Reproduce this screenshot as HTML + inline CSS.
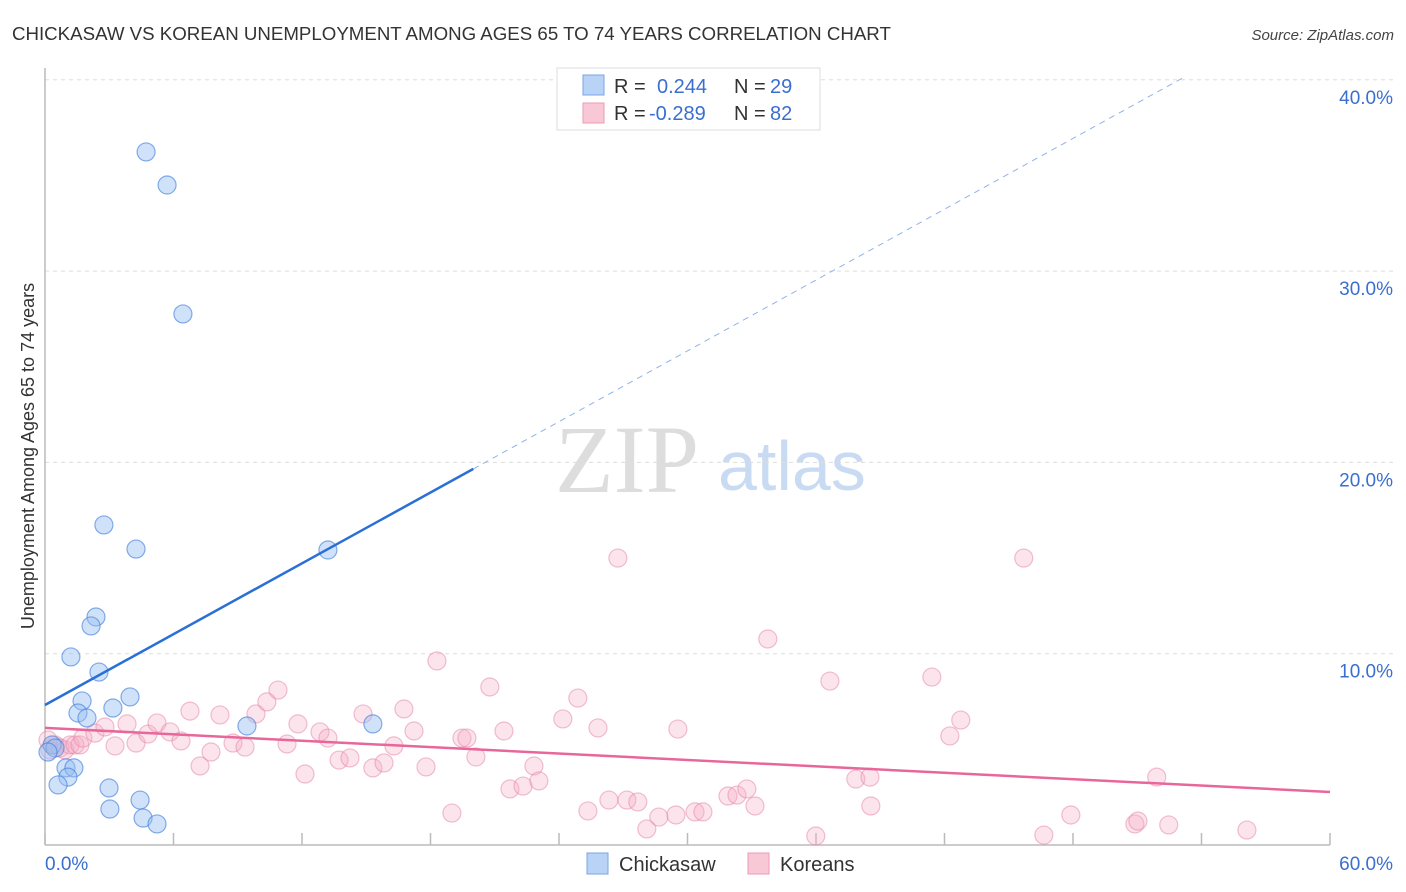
<!DOCTYPE html>
<html><head><meta charset="utf-8"><style>
body{margin:0;background:#fff;font-family:"Liberation Sans",sans-serif}
svg{display:block}
</style></head><body>
<svg id="chart" width="1406" height="892" xmlns="http://www.w3.org/2000/svg">
<text x="12" y="40" font-size="18.7" fill="#333">CHICKASAW VS KOREAN UNEMPLOYMENT AMONG AGES 65 TO 74 YEARS CORRELATION CHART</text>
<text x="1394" y="40" font-size="15" fill="#444" font-style="italic" text-anchor="end">Source: ZipAtlas.com</text>
<g>
<text x="555" y="492" font-family="Liberation Serif,serif" font-size="96" fill="#ddd">ZIP</text>
<text x="718" y="490" font-size="70" fill="#c9dbf3">atlas</text>
</g>
<g id="grid"></g>
<g id="axes"></g>
<g id="marks"></g>
<text transform="translate(34,456) rotate(-90)" font-size="18" fill="#333" text-anchor="middle">Unemployment Among Ages 65 to 74 years</text>
<g>
<rect x="557" y="68" width="263" height="62" fill="#fff" stroke="#ddd"/>
<rect x="583" y="75" width="21" height="20" fill="#b8d3f5" stroke="#7aa5e6"/>
<text x="614" y="93" font-size="20" fill="#333">R =</text>
<text x="657" y="93" font-size="20" fill="#3a6fd0">0.244</text>
<text x="734" y="93" font-size="20" fill="#333">N =</text>
<text x="770" y="93" font-size="20" fill="#3a6fd0">29</text>
<rect x="583" y="103" width="21" height="20" fill="#f8c8d6" stroke="#ec9ab5"/>
<text x="614" y="120" font-size="20" fill="#333">R =</text>
<text x="649" y="120" font-size="20" fill="#3a6fd0">-0.289</text>
<text x="734" y="120" font-size="20" fill="#333">N =</text>
<text x="770" y="120" font-size="20" fill="#3a6fd0">82</text>
</g>
<g>
<rect x="587" y="853" width="21" height="21" fill="#b8d3f5" stroke="#7aa5e6"/>
<text x="619" y="871" font-size="20" fill="#333">Chickasaw</text>
<rect x="748" y="853" width="21" height="21" fill="#f8c8d6" stroke="#ec9ab5"/>
<text x="780" y="871" font-size="20" fill="#333">Koreans</text>
</g>
</svg>
<script>
const yTicks=[10,20,30,40];
const yTickLabels=["10.0%","20.0%","30.0%","40.0%"];
const xTicks=[0,6,12,18,24,30,36,42,48,54,60];
const chickX=[4.72,5.70,6.44,2.75,4.25,13.21,2.38,2.15,1.21,2.52,3.97,1.73,3.17,1.54,1.96,9.43,15.31,0.33,0.47,0.14,0.98,1.35,1.07,0.61,2.99,4.44,3.03,4.58,5.23];
const chickY=[36.23,34.50,27.76,16.73,15.47,15.42,11.92,11.45,9.83,9.04,7.74,7.53,7.16,6.90,6.64,6.22,6.33,5.23,5.07,4.86,4.03,4.03,3.55,3.14,2.98,2.35,1.88,1.41,1.10];
const korX=[0.23,0.47,0.70,0.93,1.17,1.40,1.63,0.14,1.77,2.33,2.80,3.27,3.83,4.25,4.81,5.23,5.84,6.35,6.77,7.24,7.75,8.17,8.78,9.34,9.85,10.36,10.88,11.30,11.81,12.14,12.84,13.21,13.73,14.24,14.85,15.31,15.83,16.29,16.76,17.23,17.79,18.30,19.00,19.47,19.70,20.12,20.77,21.43,21.71,22.32,22.83,23.06,24.18,24.88,25.35,25.82,26.33,26.75,27.17,27.68,28.10,28.66,29.46,29.55,30.35,30.72,31.89,32.31,32.77,33.15,33.75,35.99,36.65,37.86,38.52,38.56,41.41,42.25,42.76,45.70,46.64,47.90,50.89,51.03,51.91,52.47,56.12];
const korY=[4.97,5.23,5.07,4.97,5.23,5.23,5.23,5.49,5.59,5.85,6.17,5.18,6.33,5.33,5.80,6.38,5.91,5.44,7.00,4.13,4.86,6.80,5.33,5.12,6.85,7.48,8.10,5.28,6.33,3.71,5.91,5.59,4.44,4.55,6.85,4.03,4.29,5.18,7.11,5.96,4.08,9.62,1.67,5.59,5.59,4.60,8.26,5.96,2.93,3.08,4.13,3.35,6.59,7.68,1.78,6.12,2.35,15.00,2.35,2.25,0.84,1.46,1.57,6.06,1.73,1.73,2.56,2.61,2.93,2.04,10.77,0.47,8.57,3.45,3.55,2.04,8.78,5.70,6.53,15.00,0.52,1.57,1.10,1.25,3.55,1.05,0.78];
const chickTrend=[7.32,0.617]; // intercept, slope
const chickSolidEnd=20;
const chickDashEnd=53.1;
const korTrend=[6.12,-0.0558];

const X0=45,X1=1330,Y0=845,YPER=19.13;
const sx=v=>X0+v*(X1-X0)/60;
const sy=v=>Y0-v*YPER;
const NS="http://www.w3.org/2000/svg";
function mk(tag,attrs,parent){const e=document.createElementNS(NS,tag);for(const k in attrs)e.setAttribute(k,attrs[k]);parent.appendChild(e);return e;}
const grid=document.getElementById('grid'),axes=document.getElementById('axes'),marks=document.getElementById('marks');
yTicks.forEach((t,i)=>{
 const l=mk('line',{x1:X0,x2:1395,y1:sy(t),y2:sy(t),stroke:'#ddd','stroke-dasharray':'4,4'},grid);
 
 
 const tx=mk('text',{x:1393,y:sy(t)+24,'font-size':19,fill:'#3a6fd0','text-anchor':'end'},axes);
 tx.textContent=yTickLabels[i];
 
 
});
const ya=mk('line',{x1:X0,x2:X0,y1:68,y2:Y0,stroke:'#bbb','stroke-width':1.5},axes);


const xa=mk('line',{x1:X0,x2:X1,y1:Y0,y2:Y0,stroke:'#bbb','stroke-width':1.5},axes);


xTicks.forEach(t=>{
 const l=mk('line',{x1:sx(t),x2:sx(t),y1:Y0-12,y2:Y0,stroke:'#bbb','stroke-width':1.5},axes);
 
 
});
const xl0=mk('text',{x:45,y:870,'font-size':19,fill:'#3a6fd0'},axes);xl0.textContent="0.0%";


const xl1=mk('text',{x:1393,y:870,'font-size':19,fill:'#3a6fd0','text-anchor':'end'},axes);xl1.textContent="60.0%";



korX.forEach((x,i)=>{
 const c=mk('circle',{cx:sx(x),cy:sy(korY[i]),r:9,fill:'rgba(246,170,196,0.32)',stroke:'rgba(228,130,165,0.5)','stroke-width':1.2},marks);
 
 
});
chickX.forEach((x,i)=>{
 const c=mk('circle',{cx:sx(x),cy:sy(chickY[i]),r:9,fill:'rgba(150,190,242,0.45)',stroke:'rgba(70,130,220,0.65)','stroke-width':1.2},marks);
 
 
});
const bt=v=>chickTrend[0]+chickTrend[1]*v;
const b1=mk('line',{x1:sx(0),y1:sy(bt(0)),x2:sx(chickSolidEnd),y2:sy(bt(chickSolidEnd)),stroke:'#2a6fd6','stroke-width':2.5},marks);


const b2=mk('line',{x1:sx(chickSolidEnd),y1:sy(bt(chickSolidEnd)),x2:sx(chickDashEnd),y2:sy(bt(chickDashEnd)),stroke:'#8fb3ea','stroke-width':1,'stroke-dasharray':'6,5'},marks);


const kt=v=>korTrend[0]+korTrend[1]*v;
const k1=mk('line',{x1:sx(0),y1:sy(kt(0)),x2:sx(60),y2:sy(kt(60)),stroke:'#e8679a','stroke-width':2.5},marks);


</script>
</body></html>
